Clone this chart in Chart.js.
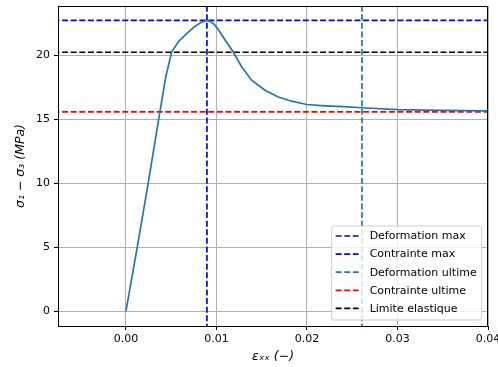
<!DOCTYPE html>
<html>
<head>
<meta charset="utf-8">
<script src="https://cdn.jsdelivr.net/npm/chart.js@4.4.1/dist/chart.umd.min.js"></script>
<style>
  html, body { margin: 0; padding: 0; background: #fff; }
  #wrap { width: 498px; height: 367px; }
</style>
</head>
<body>
<div id="wrap"><canvas id="c" width="498" height="367"></canvas></div>
<script>
// ---- data ----
const strain = [0, 0.00125, 0.00246, 0.00376, 0.00440, 0.00505, 0.00578, 0.00671, 0.00762, 0.00830, 0.00890, 0.00935, 0.00975, 0.01020, 0.01094, 0.01186, 0.01278, 0.01389, 0.01536, 0.01683, 0.01831, 0.01997, 0.02199, 0.0240, 0.0261, 0.0300, 0.0350, 0.0400];
const stress = [0, 5.0, 10.0, 15.6, 18.3, 20.25, 21.03, 21.68, 22.25, 22.55, 22.72, 22.62, 22.4, 22.0, 21.2, 20.25, 19.1, 18.05, 17.27, 16.74, 16.41, 16.15, 16.05, 15.98, 15.9, 15.76, 15.70, 15.66];

const deformationMax = 0.00895;
const contrainteMax = 22.72;
const deformationUltime = 0.02608;
const contrainteUltime = 15.58;
const limiteElastique = 20.23;

const xTicks = [0.00, 0.01, 0.02, 0.03, 0.04];
const yTicks = [0, 5, 10, 15, 20];
const xLimits = [-0.0075, 0.04];
const yLimits = [-1.135, 23.84];

const refLabels = ['Deformation max', 'Contrainte max', 'Deformation ultime', 'Contrainte ultime', 'Limite elastique'];
const refColors = ['#0000ff', '#0000ff', '#1f77b4', '#ff0000', '#000000'];

// ---- chart ----
Chart.defaults.font.family = 'DejaVu Sans';
Chart.defaults.font.size = 11;
Chart.defaults.color = '#000';

const dash = [6, 2.6];
function vLine(x) { return [{x: x, y: yLimits[0] - 5}, {x: x, y: yLimits[1] + 5}]; }
function hLine(y) { return [{x: xLimits[0] - 0.01, y: y}, {x: xLimits[1] + 0.01, y: y}]; }

const refData = [vLine(deformationMax), hLine(contrainteMax), vLine(deformationUltime), hLine(contrainteUltime), hLine(limiteElastique)];

const datasets = [{
  label: '',
  data: strain.map((v, i) => ({x: v, y: stress[i]})),
  borderColor: '#1f77b4',
  borderWidth: 1.7,
  pointRadius: 0,
  showLine: true,
  fill: false
}];
refLabels.forEach((lab, i) => {
  datasets.push({
    label: lab,
    data: refData[i],
    borderColor: refColors[i],
    borderWidth: 1.7,
    borderDash: dash,
    pointRadius: 0,
    showLine: true,
    fill: false
  });
});

const framePlugin = {
  id: 'frame',
  afterDraw(chart) {
    const {ctx, chartArea: a} = chart;
    ctx.save();
    ctx.strokeStyle = '#000';
    ctx.lineWidth = 1;
    ctx.strokeRect(Math.round(a.left) + 0.5, Math.round(a.top) + 0.5, Math.round(a.right - a.left) - 1, Math.round(a.bottom - a.top));
    // legend
    const fs = 11;
    ctx.font = fs + 'px "DejaVu Sans"';
    const entries = chart.data.datasets.filter(d => d.label);
    const maxW = Math.max(...entries.map(d => ctx.measureText(d.label).width));
    const rowH = 18.1;
    const boxR = a.right - 6.3;
    const boxB = a.bottom - 6;
    const boxH = 94;
    const boxT = boxB - boxH;
    const textX = boxR - 5 - maxW;
    const boxL = textX - 38;
    const r = 3;
    ctx.beginPath();
    ctx.moveTo(boxL + r, boxT);
    ctx.arcTo(boxR, boxT, boxR, boxB, r);
    ctx.arcTo(boxR, boxB, boxL, boxB, r);
    ctx.arcTo(boxL, boxB, boxL, boxT, r);
    ctx.arcTo(boxL, boxT, boxR, boxT, r);
    ctx.closePath();
    ctx.fillStyle = 'rgba(255,255,255,0.8)';
    ctx.fill();
    ctx.strokeStyle = '#cccccc';
    ctx.lineWidth = 1;
    ctx.stroke();
    ctx.textBaseline = 'middle';
    ctx.textAlign = 'left';
    entries.forEach((d, i) => {
      const cy = boxT + 10 + i * rowH;
      ctx.beginPath();
      ctx.setLineDash(d.borderDash);
      ctx.strokeStyle = d.borderColor;
      ctx.lineWidth = d.borderWidth;
      ctx.moveTo(boxL + 4, cy);
      ctx.lineTo(boxL + 27, cy);
      ctx.stroke();
      ctx.setLineDash([]);
      ctx.fillStyle = '#000';
      ctx.fillText(d.label, textX, cy + 0.5);
    });
    ctx.restore();
  }
};

new Chart(document.getElementById('c'), {
  type: 'scatter',
  data: { datasets: datasets },
  options: {
    responsive: false,
    animation: false,
    events: [],
    layout: { padding: { left: 0, right: 10, top: 6, bottom: 0 } },
    plugins: { legend: { display: false }, tooltip: { enabled: false } },
    elements: { line: { tension: 0 } },
    scales: {
      x: {
        type: 'linear',
        min: xLimits[0],
        max: xLimits[1],
        afterBuildTicks: s => { s.ticks = xTicks.map(v => ({value: v})); },
        afterFit: s => { s.height = 41; s.paddingLeft = 0; s.paddingRight = 0; },
        ticks: { callback: v => Number(v).toFixed(2), padding: 3, maxRotation: 0, autoSkip: false, color: '#000' },
        grid: { color: '#b0b0b0', lineWidth: 1, drawTicks: true, tickLength: 4, tickColor: '#000', tickWidth: 1 },
        border: { display: true, color: '#000', width: 1 },
        title: { display: true, text: 'εₓₓ (−)', font: { size: 12.5, style: 'italic' }, padding: { top: 0, bottom: 2.5 }, color: '#000' }
      },
      y: {
        type: 'linear',
        min: yLimits[0],
        max: yLimits[1],
        afterBuildTicks: s => { s.ticks = yTicks.map(v => ({value: v})); },
        afterFit: s => { s.width = 58; s.paddingTop = 0; s.paddingBottom = 0; },
        ticks: { callback: v => String(v), padding: 4, autoSkip: false, color: '#000' },
        grid: { color: '#b0b0b0', lineWidth: 1, drawTicks: true, tickLength: 4, tickColor: '#000', tickWidth: 1 },
        border: { display: true, color: '#000', width: 1 },
        title: { display: true, text: 'σ₁ − σ₃ (MPa)', font: { size: 12.5, style: 'italic' }, padding: { top: 13, bottom: 0 }, color: '#000' }
      }
    }
  },
  plugins: [framePlugin]
});
</script>
</body>
</html>
